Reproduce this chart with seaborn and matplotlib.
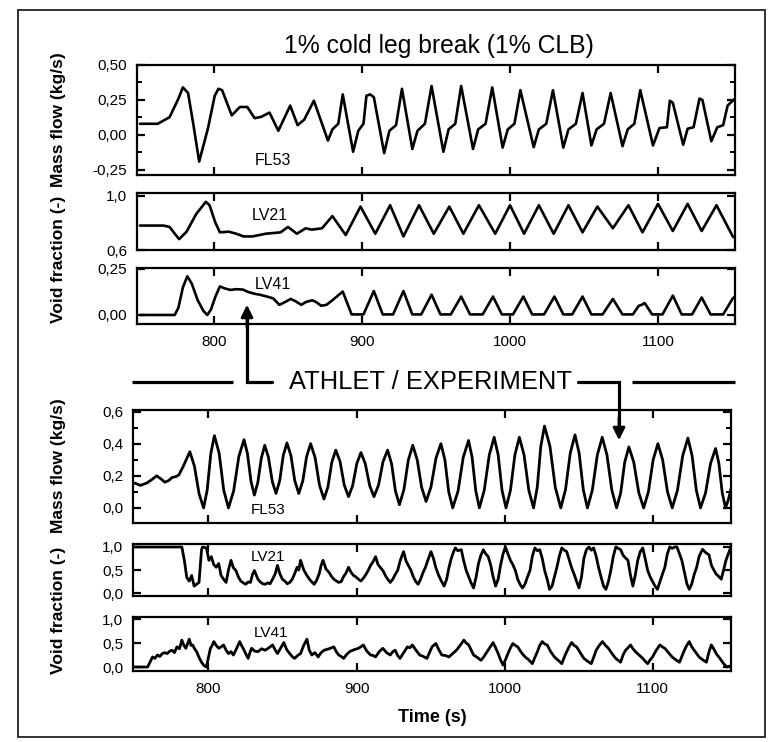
import numpy as np
import pandas as pd
import matplotlib
matplotlib.use("Agg")
import matplotlib.pyplot as plt
from matplotlib.patches import Rectangle, FancyArrowPatch
from matplotlib.lines import Line2D
from matplotlib.ticker import FixedLocator, MultipleLocator
import seaborn as sns

# ---------------- data ----------------
# ATHLET FL53 mass flow (kg/s)
t_sim_fl53 = [750, 762, 770, 776, 779, 782.5, 786, 790, 796, 800.5, 803, 805.5, 812, 817.5, 822.5,
              827.5, 832, 837.5, 843.5, 851.5, 856.5, 861, 867.5, 877, 880, 884, 887, 894, 897.5,
              901, 903, 905.5, 908, 915, 918.5, 923, 927, 934, 937.5, 942.5, 947, 955, 958.5, 963,
              967, 975, 978.5, 983.5, 988, 995, 998.5, 1003, 1007, 1016, 1019.5, 1024.5, 1029,
              1036, 1039.5, 1044.5, 1049, 1055, 1058.5, 1063.5, 1068, 1076, 1079.5, 1084, 1088,
              1096.6, 1101, 1106, 1108, 1110, 1117, 1120, 1124, 1128, 1130, 1136, 1140, 1144,
              1147, 1152]
v_sim_fl53 = [0.08, 0.08, 0.127, 0.26, 0.34, 0.30, 0.08, -0.19, 0.05, 0.28, 0.33, 0.32, 0.14, 0.20, 0.20,
              0.12, 0.13, 0.16, 0.03, 0.21, 0.07, 0.11, 0.245, -0.04, 0.04, 0.08, 0.29, -0.12, 0.03,
              0.08, 0.28, 0.29, 0.27, -0.13, 0.03, 0.07, 0.33, -0.10, 0.03, 0.08, 0.35, -0.12, 0.04, 0.08,
              0.35, -0.10, 0.04, 0.08, 0.34, -0.09, 0.04, 0.08, 0.32, -0.087, 0.04, 0.08, 0.32,
              -0.09, 0.04, 0.08, 0.30, -0.075, 0.04, 0.08, 0.30, -0.08, 0.04, 0.08, 0.32,
              -0.075, 0.05, 0.055, 0.245, 0.23, -0.07, 0.045, 0.055, 0.26, 0.25, -0.045, 0.055, 0.07,
              0.21, 0.26]

# ATHLET LV21 void fraction (-)
t_sim_lv21 = [750, 766, 770, 773.5, 776.5, 781.5, 788, 794.5, 797, 801, 804, 810, 815, 820, 826, 835,
              845, 850, 856, 862, 866, 873, 880, 889, 899, 909, 919, 928, 938.5, 948.5, 959, 968.5,
              979, 990, 1000, 1009.5, 1019.5, 1029.5, 1039.5, 1049, 1059, 1069.5, 1080, 1089.5,
              1100, 1110, 1120, 1129.5, 1139.5, 1150.5, 1152]
v_sim_lv21 = [0.78, 0.78, 0.77, 0.72, 0.68, 0.735, 0.865, 0.955, 0.93, 0.80, 0.73, 0.735, 0.72, 0.70, 0.70, 0.72,
              0.73, 0.77, 0.72, 0.76, 0.75, 0.76, 0.85, 0.71, 0.92, 0.72, 0.93, 0.70, 0.93, 0.72, 0.92, 0.72,
              0.93, 0.72, 0.93, 0.72, 0.93, 0.72, 0.93, 0.73, 0.92, 0.76, 0.93, 0.73,
              0.94, 0.74, 0.94, 0.74, 0.93, 0.70, 0.69]

# ATHLET LV41 void fraction (-)
t_sim_lv41 = [750, 773.5, 776, 779, 782, 785, 789, 793, 795.5, 798, 801, 804, 807, 811, 815, 819.5, 823,
              827.5, 831, 835.8, 840, 844.2, 848, 851.8, 855, 859, 862, 866.4, 869, 872.5, 876, 880,
              887, 893, 901, 908, 914, 921, 928, 934, 940, 947, 953, 960, 967, 973, 981.5, 988.5,
              994.5, 1002, 1009, 1015, 1023, 1030, 1036, 1042, 1049, 1055, 1062.5, 1069.5, 1076,
              1083, 1087, 1089, 1091, 1093, 1096, 1103, 1110, 1116, 1123, 1129.5, 1135.5, 1144,
              1150.5, 1152]
v_sim_lv41 = [0.0, 0.0, 0.04, 0.15, 0.21, 0.17, 0.08, 0.02, 0.0, 0.03, 0.10, 0.155, 0.145, 0.136, 0.14, 0.138, 0.125,
              0.115, 0.11, 0.10, 0.09, 0.055, 0.07, 0.087, 0.075, 0.055, 0.07, 0.08, 0.07, 0.05, 0.055, 0.08,
              0.127, 0.003, 0.003, 0.13, 0.003, 0.003, 0.13, 0.003, 0.003, 0.11, 0.003, 0.003, 0.10, 0.003, 0.003, 0.10,
              0.003, 0.003, 0.10, 0.003, 0.003, 0.10, 0.003, 0.003, 0.10, 0.003, 0.003, 0.087, 0.003,
              0.003, 0.05, 0.055, 0.065, 0.04, 0.003, 0.003, 0.105, 0.003, 0.003, 0.095, 0.003, 0.003,
              0.09, 0.10]

# EXPERIMENT FL53 mass flow (kg/s): (time, value)
exp_fl53 = [(750,0.155),(754,0.14),(758.5,0.156),(761.5,0.175),(765,0.2),(768,0.18),(770.5,0.16),
    (773,0.17),(775.5,0.19),(778,0.195),(780,0.206),(783,0.26),(787.4,0.35),(790.5,0.26),(793.6,0.09),
    (796.7,0.0),(799.1,0.11),(801.6,0.34),(804,0.45),(807.2,0.34),(810.3,0.11),(813.5,0.0),(817,0.106),
    (820.5,0.32),(824,0.425),(826.3,0.34),(828.7,0.166),(831,0.08),(833.3,0.158),(835.7,0.31),(838,0.39),
    (840.5,0.315),(843.1,0.165),(845.6,0.09),(848.1,0.169),(850.5,0.326),(853,0.405),(855.7,0.326),
    (858.3,0.169),(861,0.09),(863.7,0.168),(866.3,0.32),(869,0.40),(872,0.314),(875,0.141),(878,0.055),
    (880.7,0.131),(883.3,0.284),(886,0.36),(888.9,0.288),(891.7,0.143),(894.6,0.07),(897.4,0.139),
    (900.2,0.276),(903,0.345),(905.9,0.276),(908.9,0.139),(911.8,0.07),(914.9,0.143),(917.9,0.288),
    (921,0.36),(923.7,0.275),(926.3,0.105),(929,0.02),(932,0.113),(935,0.298),(938,0.39),(941,0.30),
    (944,0.128),(947,0.04),(950.3,0.13),(953.7,0.31),(957,0.40),(959.7,0.30),(962.3,0.10),(965,0.0),
    (968.6,0.105),(972.1,0.315),(975.7,0.42),(978.1,0.315),(980.6,0.105),(983,0.0),(986.3,0.11),
    (989.7,0.33),(993,0.44),(995.7,0.33),(998.3,0.11),(1001,0.0),(1004,0.11),(1007,0.33),(1010,0.44),
    (1013.2,0.33),(1016.4,0.11),(1019.6,0.0),(1022.1,0.128),(1024.5,0.383),(1027,0.51),(1030.7,0.383),
    (1034.3,0.128),(1038,0.0),(1041.2,0.114),(1044.4,0.341),(1047.6,0.455),(1050.4,0.341),(1053.2,0.114),
    (1056,0.0),(1059.3,0.11),(1062.7,0.33),(1066,0.44),(1069.2,0.33),(1072.5,0.11),(1075.7,0.0),
    (1078.5,0.095),(1081.2,0.285),(1084,0.38),(1087.3,0.285),(1090.7,0.095),(1094,0.0),(1097.2,0.10),
    (1100.4,0.30),(1103.6,0.40),(1106.8,0.30),(1110.1,0.10),(1113.3,0.0),(1116.8,0.109),(1120.4,0.326),
    (1123.9,0.435),(1126.7,0.326),(1129.6,0.109),(1132.4,0.0),(1135.8,0.093),(1139.2,0.278),(1142.6,0.37),
    (1144.8,0.278),(1147.1,0.093),(1149.3,0.0),(1151.2,0.05),(1153,0.12)]

# EXPERIMENT LV21 void fraction (-)
exp_lv21 = [(750,1.0),(782,1.0),(783.7,0.71),(785.3,0.34),(787,0.26),(788.6,0.38),(790.3,0.15),(792,0.19),
    (793.6,0.23),(795.3,0.94),(796,1.0),(798.6,0.98),(800.3,0.71),(801.9,0.79),(803.5,0.62),(805.2,0.56),
    (806.9,0.64),(808.5,0.38),(810.2,0.3),(811.9,0.23),(813.5,0.5),(815.2,0.71),(816.8,0.55),(818.5,0.49),
    (820.2,0.35),(821.8,0.26),(823.5,0.22),(825.1,0.19),(826.8,0.24),(828.4,0.23),(829.7,0.4),(831,0.49),
    (833.4,0.3),(835,0.24),(836.7,0.2),(838.3,0.19),(840,0.22),(841.6,0.2),(843.3,0.3),(845,0.41),
    (846.6,0.6),(848.2,0.42),(849.9,0.3),(851.6,0.26),(853.2,0.2),(854.9,0.23),(856.6,0.3),(858.2,0.42),
    (859.9,0.56),(861,0.5),(862.2,0.71),(864.4,0.5),(866.5,0.38),(868.2,0.3),(869.8,0.24),(871.4,0.19),
    (873.1,0.28),(874.8,0.42),(876.1,0.6),(877.4,0.71),(879.4,0.52),(881.4,0.45),(883.1,0.36),(884.7,0.3),
    (886.4,0.26),(888,0.23),(889.7,0.25),(891.3,0.36),(893,0.44),(894.6,0.56),(896.3,0.45),(898,0.38),
    (899.6,0.35),(901.3,0.3),(902.9,0.26),(904.6,0.32),(906.3,0.4),(907.9,0.49),(909.5,0.6),(911.2,0.68),
    (912.9,0.79),(914.5,0.62),(916.2,0.55),(917.8,0.49),(919.5,0.38),(921.1,0.3),(922.8,0.23),(924.5,0.3),
    (926.1,0.4),(927.8,0.49),(929.5,0.7),(930.6,0.8),(931.8,0.9),(933.4,0.7),(935,0.6),(936.7,0.5),
    (938.4,0.35),(940,0.25),(941.6,0.19),(943.3,0.3),(945,0.45),(946.6,0.56),(948.3,0.72),(950.3,0.9),
    (952,0.75),(953.6,0.55),(955.3,0.4),(957,0.28),(959.2,0.15),(960.9,0.3),(962.5,0.56),(964,0.75),
    (965.6,0.9),(966.8,0.98),(968.4,0.92),(970.8,0.94),(972.4,0.7),(974.1,0.49),(975.8,0.35),(977.4,0.22),
    (979.1,0.11),(980.8,0.35),(982.4,0.64),(984,0.82),(985.7,0.94),(987.3,0.85),(989,0.79),(990.7,0.6),
    (992.3,0.35),(994,0.15),(995.7,0.3),(997.3,0.6),(999,0.85),(1000.6,1.0),(1002.3,0.85),(1004,0.71),
    (1005.6,0.62),(1007.3,0.49),(1008.9,0.3),(1010.6,0.18),(1012.2,0.11),(1013.9,0.2),(1015.5,0.35),
    (1017.2,0.49),(1018.8,0.8),(1020.5,0.98),(1022.2,0.92),(1023.8,0.94),(1025.5,0.75),(1027.1,0.49),
    (1028.8,0.3),(1030.4,0.08),(1032.1,0.15),(1033.7,0.35),(1035.4,0.56),(1037,0.8),(1038.7,0.98),
    (1040.4,0.93),(1042,0.9),(1043.7,0.72),(1045.3,0.55),(1047,0.41),(1048.7,0.25),(1050.3,0.11),
    (1052,0.35),(1053.6,0.75),(1055.3,0.94),(1057,1.0),(1058.6,0.93),(1060.2,0.98),(1061.9,0.8),
    (1063.5,0.56),(1065.2,0.35),(1066.9,0.15),(1068.5,0.08),(1070.2,0.25),(1071.8,0.49),(1073.5,0.8),
    (1075.2,1.0),(1076.8,0.97),(1078.5,0.94),(1080.1,0.82),(1081.8,0.76),(1083.4,0.71),(1085,0.4),
    (1086.7,0.15),(1088.4,0.4),(1090,0.71),(1091.7,0.9),(1093.4,0.98),(1095,0.75),(1096.7,0.49),
    (1098.4,0.35),(1100,0.25),(1101.7,0.15),(1103.3,0.08),(1105,0.25),(1106.6,0.4),(1108.3,0.56),
    (1110,0.85),(1111.6,1.0),(1113.3,0.97),(1115,1.0),(1116.5,1.0),(1118.2,0.85),(1119.8,0.71),
    (1121.5,0.45),(1123.2,0.2),(1124.8,0.08),(1126.5,0.2),(1128.1,0.4),(1129.8,0.56),(1131.5,0.8),
    (1133.8,0.95),(1135.8,0.88),(1138.1,0.83),(1139.8,0.6),(1141.4,0.5),(1143,0.41),(1144.7,0.36),
    (1146.4,0.3),(1148,0.5),(1149.6,0.71),(1151.5,0.88),(1153,1.0)]

# EXPERIMENT LV41 void fraction (-)
exp_lv41 = [(750,0.0),(758.9,0.0),(760.5,0.1),(762.2,0.21),(763.8,0.18),(765.5,0.25),(767.1,0.22),
    (768.8,0.28),(770.4,0.3),(772.1,0.28),(773.8,0.33),(775.4,0.35),(777,0.3),(778.7,0.42),(780.4,0.38),
    (782,0.56),(783.4,0.45),(784.7,0.39),(786,0.5),(787,0.58),(788.2,0.45),(789.3,0.46),(790.6,0.38),
    (792,0.32),(793.6,0.2),(795.3,0.1),(797,0.03),(798.6,0.0),(800,0.2),(801.3,0.39),(802.5,0.45),
    (803.6,0.53),(805.2,0.45),(806.9,0.39),(808.5,0.42),(810.2,0.46),(811.9,0.35),(813.5,0.28),
    (815.2,0.32),(816.8,0.25),(818.9,0.38),(821.1,0.53),(822.3,0.45),(823.4,0.39),(825.1,0.28),
    (826.8,0.18),(828,0.3),(829.1,0.39),(831.3,0.33),(833.4,0.32),(835.9,0.38),(838.3,0.35),(840.8,0.4),
    (843.3,0.46),(845,0.36),(846.6,0.28),(848.8,0.4),(850.9,0.51),(852.9,0.36),(854.9,0.28),(856.5,0.22),
    (858.2,0.18),(860.2,0.24),(862.2,0.28),(864.3,0.45),(866.5,0.58),(868.1,0.35),(869.8,0.25),
    (871.9,0.3),(874.1,0.21),(876.1,0.3),(878.1,0.35),(881.4,0.38),(884.7,0.42),(886.3,0.32),(888,0.25),
    (889.6,0.22),(891.3,0.18),(893.3,0.26),(895.3,0.32),(898.3,0.36),(901.3,0.39),(902.9,0.42),
    (904.6,0.46),(907,0.33),(909.5,0.25),(911.2,0.24),(912.9,0.21),(915.3,0.32),(917.8,0.39),(920.3,0.3),
    (922.8,0.25),(924.5,0.32),(926.1,0.35),(927.8,0.24),(929.4,0.18),(931.9,0.3),(934.4,0.42),(936,0.4),
    (937.7,0.46),(940.2,0.35),(942.7,0.25),(945.1,0.22),(947.6,0.18),(949.3,0.3),(951,0.42),(953.6,0.49),
    (955.6,0.36),(957.6,0.25),(960,0.24),(962.5,0.21),(965,0.28),(967.5,0.35),(970,0.45),(972.5,0.56),
    (974.1,0.5),(975.8,0.46),(977.4,0.36),(979.1,0.25),(981.6,0.2),(984.1,0.14),(985.7,0.2),(987.4,0.28),
    (989.9,0.4),(992.3,0.51),(994,0.4),(995.7,0.28),(997.3,0.15),(999,0.04),(1000.6,0.15),(1002.3,0.28),
    (1004,0.4),(1005.6,0.49),(1007.3,0.45),(1008.9,0.42),(1011.4,0.3),(1013.9,0.21),(1016.4,0.15),
    (1018.8,0.07),(1020.5,0.2),(1022.2,0.32),(1023.8,0.45),(1025.5,0.53),(1027.1,0.48),(1028.8,0.46),
    (1031.2,0.32),(1033.7,0.21),(1036.2,0.14),(1038.7,0.07),(1040.3,0.2),(1042,0.32),(1043.6,0.42),
    (1045.3,0.51),(1047,0.45),(1048.7,0.42),(1051.1,0.3),(1053.6,0.18),(1056.1,0.12),(1058.6,0.07),
    (1060.2,0.2),(1061.9,0.35),(1064,0.45),(1066.2,0.53),(1068.2,0.45),(1070.2,0.39),(1072.6,0.28),
    (1075.1,0.18),(1076.8,0.14),(1078.4,0.1),(1080.1,0.25),(1081.8,0.35),(1083.4,0.4),(1085.1,0.46),
    (1086.8,0.38),(1088.4,0.32),(1090.9,0.25),(1093.4,0.18),(1095,0.12),(1096.7,0.07),(1098.4,0.15),
    (1100,0.21),(1102.5,0.35),(1105,0.46),(1106.6,0.42),(1108.3,0.39),(1110.7,0.3),(1113.2,0.21),
    (1115.7,0.15),(1118.2,0.1),(1119.8,0.22),(1121.5,0.35),(1123.1,0.45),(1124.8,0.53),(1126.5,0.42),
    (1128.1,0.35),(1129.8,0.28),(1131.4,0.21),(1133.9,0.15),(1136.4,0.1),(1138,0.3),(1139.7,0.46),
    (1141.3,0.38),(1143,0.28),(1145.5,0.18),(1148,0.07),(1150.3,0.0),(1152,0.02)]

x_ticks = [800, 900, 1000, 1100]
x_tick_labels = ["800", "900", "1000", "1100"]

y1_ticks = [-0.25, 0.0, 0.25, 0.5]
y1_labels = ["-0,25", "0,00", "0,25", "0,50"]
y2_ticks = [0.6, 1.0]
y2_labels = ["0,6", "1,0"]
y3_ticks = [0.0, 0.25]
y3_labels = ["0,00", "0,25"]
y4_ticks = [0.0, 0.2, 0.4, 0.6]
y4_labels = ["0,0", "0,2", "0,4", "0,6"]
y5_ticks = [0.0, 0.5, 1.0]
y5_labels = ["0,0", "0,5", "1,0"]

title_text = "1% cold leg break (1% CLB)"
middle_text = "ATHLET / EXPERIMENT"

# ---------------- style ----------------
sns.set_theme(style="white")
plt.rcParams['font.family'] = ['Liberation Sans', 'DejaVu Sans']
plt.rcParams['text.color'] = 'black'
plt.rcParams['axes.labelcolor'] = 'black'
plt.rcParams['xtick.color'] = 'black'
plt.rcParams['ytick.color'] = 'black'
plt.rcParams['axes.linewidth'] = 1.5
plt.rcParams['lines.solid_joinstyle'] = 'round'

W, H = 769, 742
fig = plt.figure(figsize=(W / 100, H / 100), dpi=100)
fig.patch.set_facecolor('white')


def add_ax(left, top, right, bottom):
    return fig.add_axes([left / W, 1 - bottom / H, (right - left) / W, (bottom - top) / H])


def style_ax(ax, xlim, ylim, yticks, ylabels, yminor=None, show_x=False):
    ax.set_xlim(*xlim)
    ax.set_ylim(*ylim)
    ax.set_facecolor('white')
    for s in ax.spines.values():
        s.set_color('black')
        s.set_linewidth(1.6)
        s.set_visible(True)
    ax.xaxis.set_major_locator(FixedLocator(x_ticks))
    if show_x:
        ax.set_xticklabels(x_tick_labels)
    else:
        ax.set_xticklabels([])
    ax.yaxis.set_major_locator(FixedLocator(yticks))
    ax.set_yticklabels(ylabels)
    if yminor is not None:
        ax.yaxis.set_minor_locator(MultipleLocator(yminor))
    ax.tick_params(axis='both', which='major', direction='in', length=6, width=1.6,
                   color='black', top=True, right=True, bottom=True, left=True,
                   labelsize=11, labelcolor='black')
    ax.tick_params(axis='y', which='major', pad=7)
    ax.tick_params(axis='x', which='major', pad=8)
    ax.tick_params(axis='y', which='minor', direction='in', length=3.5, width=1.4,
                   color='black', left=True, right=True)
    ax.set_xlabel("")
    ax.set_ylabel("")
    ax.grid(False)


def draw(ax, t, v, lw=1.9):
    df = pd.DataFrame({"t": list(t), "v": list(v)})
    sns.lineplot(data=df, x="t", y="v", ax=ax, color="black", linewidth=lw,
                 estimator=None, sort=False, legend=False)


xlim_top = (748, 1152)
xlim_bot = (749, 1153)

ax1 = add_ax(137, 65, 735, 175)
draw(ax1, t_sim_fl53, v_sim_fl53)
style_ax(ax1, xlim_top, (-0.286, 0.5), y1_ticks, y1_labels, yminor=0.125)
ax1.text(840, -0.18, "FL53", ha="center", va="center", fontsize=11.5)

ax2 = add_ax(137, 193, 735, 250)
draw(ax2, t_sim_lv21, v_sim_lv21)
style_ax(ax2, xlim_top, (0.6, 1.02), y2_ticks, y2_labels)
ax2.text(838, 0.857, "LV21", ha="center", va="center", fontsize=11.5)

ax3 = add_ax(137, 268, 735, 324)
draw(ax3, t_sim_lv41, v_sim_lv41)
style_ax(ax3, xlim_top, (-0.049, 0.255), y3_ticks, y3_labels, show_x=True)
ax3.text(840, 0.163, "LV41", ha="center", va="center", fontsize=11.5)

t4, v4 = zip(*exp_fl53)
ax4 = add_ax(133, 410, 731, 523)
draw(ax4, t4, v4, lw=2.0)
style_ax(ax4, xlim_bot, (-0.094, 0.61), y4_ticks, y4_labels, yminor=0.1)
ax4.text(840, -0.01, "FL53", ha="center", va="center", fontsize=11)

t5, v5 = zip(*exp_lv21)
ax5 = add_ax(133, 544, 731, 596)
draw(ax5, t5, v5, lw=2.0)
style_ax(ax5, xlim_bot, (-0.065, 1.065), y5_ticks, y5_labels)
ax5.text(840, 0.78, "LV21", ha="center", va="center", fontsize=11)

t6, v6 = zip(*exp_lv41)
ax6 = add_ax(133, 617, 731, 671)
draw(ax6, t6, v6, lw=2.0)
style_ax(ax6, xlim_bot, (-0.083, 1.042), y5_ticks, y5_labels, show_x=True)
ax6.text(842, 0.70, "LV41", ha="center", va="center", fontsize=11)

# ---------------- figure-level text ----------------
def fy(y):
    return 1 - y / H

fig.text(439 / W, fy(46), title_text, ha="center", va="center", fontsize=17.8, color="black")
fig.text(430 / W, fy(382), middle_text, ha="center", va="center", fontsize=18.4, color="black")

for ypix, lab in [(120, "Mass flow (kg/s)"), (259, "Void fraction (-)"),
                  (466, "Mass flow (kg/s)"), (610, "Void fraction (-)")]:
    fig.text(58 / W, fy(ypix), lab, rotation=90, ha="center", va="center",
             fontsize=12.5, fontweight="bold", color="black")
fig.text(432 / W, fy(717), "Time (s)", ha="center", va="center", fontsize=13,
         fontweight="bold", color="black")

# separator lines and arrows (pixel positions in figure)
def hline(x0, x1, y, lw=2.3):
    fig.add_artist(Line2D([x0 / W, x1 / W], [fy(y), fy(y)], transform=fig.transFigure,
                          color="black", linewidth=lw, solid_capstyle="butt"))

hline(132, 233, 382)
hline(632, 735, 382)
fig.add_artist(Line2D([272 / W, 247 / W, 247 / W], [fy(382), fy(382), fy(318)],
                      transform=fig.transFigure, color="black", linewidth=2.3,
                      solid_joinstyle="miter"))
fig.add_artist(FancyArrowPatch((247, H - 330), (247, H - 302),
               transform=None, arrowstyle="-|>", mutation_scale=18, color="black",
               linewidth=2.0))
fig.add_artist(Line2D([578 / W, 619 / W, 619 / W], [fy(382), fy(382), fy(425)],
                      transform=fig.transFigure, color="black", linewidth=2.3,
                      solid_joinstyle="miter"))
fig.add_artist(FancyArrowPatch((619, H - 415), (619, H - 443),
               transform=None, arrowstyle="-|>", mutation_scale=18, color="black",
               linewidth=2.0))

# outer frame
fig.add_artist(Rectangle((18 / W, fy(737)), (765 - 18) / W, (737 - 10) / H,
                         transform=fig.transFigure, fill=False, edgecolor="#222222",
                         linewidth=1.3))

fig.savefig("out.png", dpi=100, facecolor="white")
